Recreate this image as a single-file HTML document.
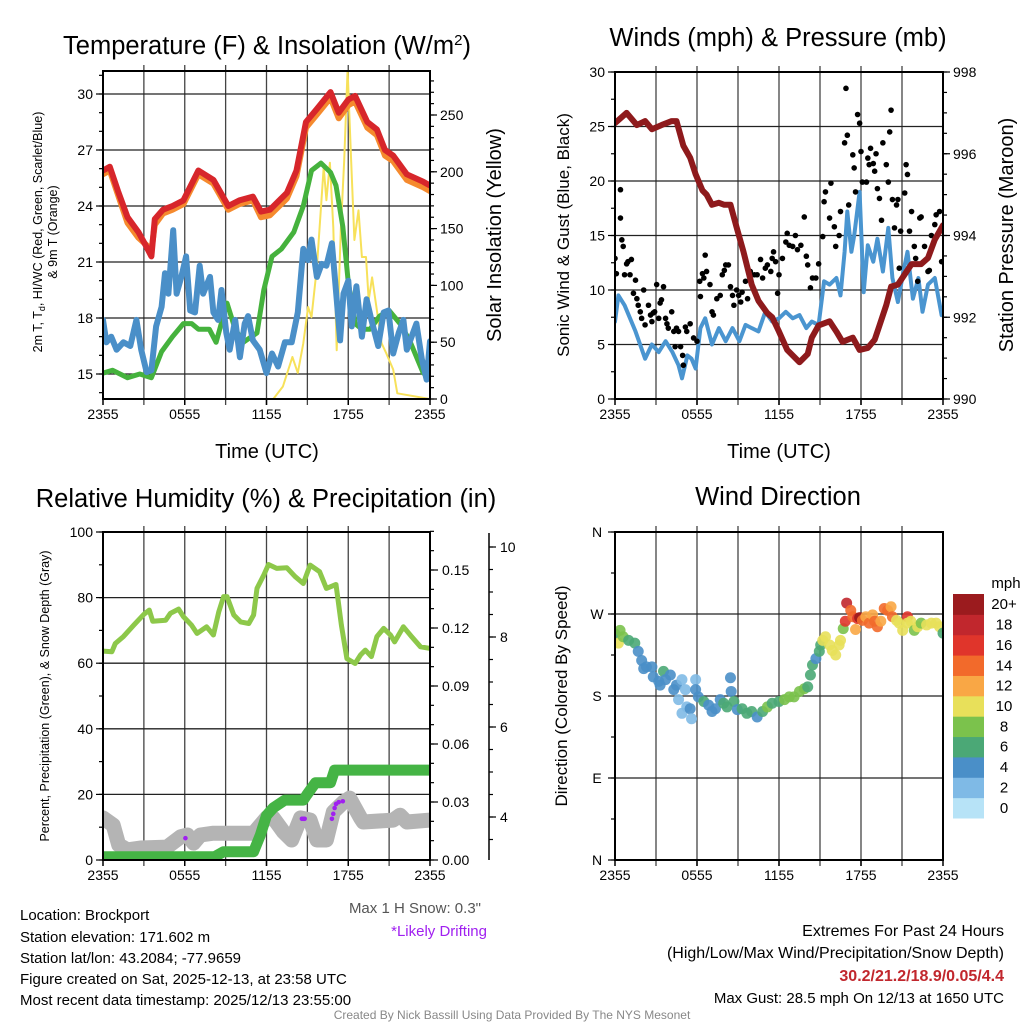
<!DOCTYPE html>
<html><head><meta charset="utf-8"><style>
html,body{margin:0;padding:0;background:#fff;}
svg{display:block;font-family:"Liberation Sans",Arial,sans-serif;}
</style></head><body>
<svg id="chart" width="1024" height="1024" viewBox="0 0 1024 1024" xmlns="http://www.w3.org/2000/svg">
<defs>
<clipPath id="c1"><rect x="103" y="71" width="327" height="328"/></clipPath>
<clipPath id="c2"><rect x="615" y="72" width="328" height="327"/></clipPath>
<clipPath id="c3"><rect x="103" y="532" width="327" height="328"/></clipPath>
<clipPath id="c4"><rect x="615" y="532" width="328" height="328"/></clipPath>
</defs>
<g font-size="25.5" text-anchor="middle" fill="#000">
<text x="267" y="54">Temperature (F) &amp; Insolation (W/m<tspan font-size="15" dy="-9">2</tspan><tspan dy="9">)</tspan></text>
<text x="778" y="46">Winds (mph) &amp; Pressure (mb)</text>
<text x="266" y="507">Relative Humidity (%) &amp; Precipitation (in)</text>
<text x="778" y="505">Wind Direction</text>
</g>
<g font-size="20" text-anchor="middle">
<text x="267" y="458">Time (UTC)</text>
<text x="779" y="458">Time (UTC)</text>
<text transform="translate(501,235) rotate(-90)">Solar Insolation (Yellow)</text>
<text transform="translate(1013,235) rotate(-90)">Station Pressure (Maroon)</text>
</g>
<g font-size="17" text-anchor="middle">
<text transform="translate(569,235) rotate(-90)">Sonic Wind &amp; Gust (Blue, Black)</text>
<text transform="translate(567,696) rotate(-90)">Direction (Colored By Speed)</text>
</g>
<g font-size="12.5" text-anchor="middle">
<text transform="translate(42,232) rotate(-90)">2m T, T<tspan font-size="9" dy="3">d</tspan><tspan dy="-3">, HI/WC (Red, Green, Scarlet/Blue)</tspan></text>
<text transform="translate(57,232) rotate(-90)">&amp; 9m T (Orange)</text>
<text transform="translate(49,696) rotate(-90)">Percent, Precipitation (Green), &amp; Snow Depth (Gray)</text>
</g>
<g font-size="15" fill="#000">
<text x="20" y="920">Location: Brockport</text>
<text x="20" y="942">Station elevation: 171.602 m</text>
<text x="20" y="963">Station lat/lon: 43.2084; -77.9659</text>
<text x="20" y="984">Figure created on Sat, 2025-12-13, at 23:58 UTC</text>
<text x="20" y="1005">Most recent data timestamp: 2025/12/13 23:55:00</text>
<text x="481" y="913" text-anchor="end" fill="#555">Max 1 H Snow: 0.3"</text>
<text x="487" y="936" text-anchor="end" fill="#a020f0">*Likely Drifting</text>
<text x="1004" y="936" text-anchor="end" font-size="16">Extremes For Past 24 Hours</text>
<text x="1004" y="958" text-anchor="end" font-size="16">(High/Low/Max Wind/Precipitation/Snow Depth)</text>
<text x="1004" y="981" text-anchor="end" font-size="16" font-weight="bold" fill="#c1272d">30.2/21.2/18.9/0.05/4.4</text>
<text x="1004" y="1003" text-anchor="end">Max Gust: 28.5 mph On 12/13 at 1650 UTC</text>
<text x="512" y="1019" text-anchor="middle" font-size="12" fill="#888">Created By Nick Bassill Using Data Provided By The NYS Mesonet</text>
</g>
</svg>
<script>
// ---- Panel 1 data ----
const xTickLabels = ["2355","0555","1155","1755","2355"];
const tempTickLabels = [15,18,21,24,27,30];
const solarTickLabels = [0,50,100,150,200,250];
const tempT = [0,0.5,1.1,1.8,2.6,3.2,3.55,3.8,4.4,5.1,5.9,7.0,8.1,9.2,10.0,11.0,11.6,12.25,13.5,14.2,14.9,15.7,16.7,17.3,18.0,18.5,19.4,20.1,20.7,21.3,22.3,23.5,24];
const tempRed = [25.9,26.1,24.8,23.4,22.6,21.8,21.3,23.3,23.8,24.0,24.3,25.9,25.4,24.0,24.3,24.5,23.7,23.8,24.7,25.9,28.5,29.2,30.1,29.0,29.7,29.9,28.5,28.1,27.0,26.7,25.7,25.3,25.1];
const tempOrange = [25.7,25.9,24.6,23.1,22.3,21.9,21.6,23.0,23.6,23.8,24.1,25.7,25.2,23.8,24.1,24.3,23.4,23.5,24.4,25.6,28.2,28.9,29.8,28.7,29.4,29.6,28.2,27.8,26.7,26.4,25.4,25.0,24.8];
const dewT = [0,0.7,1.8,2.7,3.55,4.3,5.1,5.9,6.5,7.0,7.8,8.3,9.1,9.7,10.3,11.3,11.8,12.4,13.1,14.0,14.7,15.3,16.0,16.7,17.1,17.6,18.0,18.5,19.0,19.6,20.3,21.0,21.8,22.5,23.5,24];
const dewVal = [15.05,15.2,14.8,15.0,14.8,16.2,17.0,17.7,17.7,17.4,17.4,16.7,18.8,17.4,16.7,17.2,19.5,21.3,21.7,22.6,24.0,25.9,26.3,25.8,25.1,22.9,19.9,17.7,17.4,17.4,18.1,18.4,17.7,16.8,15.05,14.9];
const wcT = [0,0.25,0.6,1.0,1.5,2.0,2.45,2.8,3.2,3.55,3.9,4.3,4.55,4.8,5.15,5.4,5.75,6.1,6.4,6.75,7.1,7.35,7.85,8.1,8.45,8.7,9.05,9.3,9.7,10.05,10.4,10.65,11.0,11.5,12.0,12.4,12.85,13.35,13.85,14.3,14.7,15.05,15.3,15.7,16.05,16.4,16.8,17.15,17.4,17.65,18.0,18.25,18.6,19.0,19.35,19.7,20.2,20.6,20.95,21.3,21.7,22.05,22.3,22.65,23.0,23.4,23.75,24];
const wcVal = [17.9,16.7,17.0,16.3,16.7,16.5,17.9,16.3,15.1,15.2,17.55,18.6,20.4,19.3,22.7,19.3,20.2,21.3,18.4,18.3,20.8,19.3,20.2,18.3,17.9,19.5,17.2,16.3,17.9,15.9,17.7,18.1,16.8,16.3,15.05,16.1,15.4,16.7,16.7,18.3,21.7,21.1,22.2,20.2,20.9,20.8,22.0,19.0,16.8,19.3,20.0,17.55,19.7,17.0,19.0,17.9,16.5,18.3,18.4,16.1,17.2,17.9,16.3,17.0,17.7,15.8,14.7,16.75];
const solarT = [0,12.5,13.2,13.9,14.3,14.7,15.05,15.3,15.7,16.2,16.4,16.65,16.9,17.15,17.45,17.7,17.95,18.2,18.45,18.75,19.0,19.3,19.5,19.75,20.1,20.45,20.8,21.3,21.6,24];
const solarVal = [0,0,11,37,23,49,81,72,116,204,175,208,151,43,149,210,290,213,140,166,125,125,87,107,78,49,40,26,5,0];
// ---- Panel 2 data ----
const windTickLabels = [0,5,10,15,20,25,30];
const presTickLabels = [990,992,994,996,998];
const sonicT = [0,0.25,0.7,1.5,2.2,2.7,3.2,3.7,4.2,4.65,4.9,5.3,5.6,5.9,6.25,6.6,7.1,7.6,8.1,8.6,9.1,9.55,10.0,10.5,11.0,11.5,12.0,12.5,13.0,13.5,14.0,14.4,14.9,15.3,15.7,16.2,16.5,16.8,17.0,17.3,17.5,17.9,18.2,18.5,18.9,19.2,19.6,20.0,20.3,20.7,21.1,21.4,21.8,22.2,22.5,22.9,23.4,23.9];
const sonicVal = [7.1,9.5,8.6,6.2,3.7,5.0,4.3,5.3,4.3,3.1,1.9,4.0,3.7,2.8,6.5,7.4,5.0,6.5,5.3,6.5,5.3,6.8,6.5,6.2,8.0,7.1,7.4,8.0,7.4,7.7,6.5,7.1,6.8,10.8,10.5,11.1,9.5,13.5,17.2,13.5,15.0,19.0,9.8,14.1,12.6,14.7,11.7,15.7,11.1,8.9,11.7,13.5,9.2,11.1,8.0,10.5,11.1,7.7];
const gustT = [0,0.1,0.4,0.4,0.5,0.6,0.7,0.85,0.95,1.2,1.1,1.5,1.35,1.6,1.7,1.85,2.1,1.95,2.2,2.45,2.6,2.7,2.8,2.9,3.05,3.2,3.3,3.4,3.55,3.7,3.8,3.9,4.15,4.3,4.4,4.5,4.65,4.8,4.95,5.0,5.15,5.25,5.5,5.75,6.0,6.2,6.25,6.4,6.5,6.6,6.7,6.95,7.1,7.2,7.45,7.7,7.85,8.0,8.1,8.3,8.45,8.6,8.7,8.9,9.05,9.2,9.3,9.55,9.7,9.9,10.2,10.4,10.65,10.8,11.0,11.15,11.4,11.5,11.6,11.75,11.9,12.0,12.25,12.5,12.6,12.75,13.0,13.2,13.35,13.6,13.85,14.0,14.1,14.3,14.45,14.7,14.9,15.2,15.3,15.4,15.7,15.8,16.05,16.15,16.4,16.5,16.8,16.9,17.0,17.1,17.4,17.5,17.6,17.75,17.9,18.0,18.1,18.4,18.5,18.6,18.7,18.9,19.0,19.1,19.2,19.35,19.5,19.6,19.85,20.0,20.1,20.2,20.3,20.45,20.6,20.7,20.8,20.9,21.2,21.3,21.4,21.55,21.7,21.9,22.0,22.15,22.3,22.4,22.65,22.9,23.0,23.15,23.4,23.5,23.75,23.9];
const gustVal = [12.9,11.5,19.2,16.6,14.6,14.0,11.4,12.4,12.6,12.8,11.4,10.9,9.7,9.2,8.6,8.0,10.0,7.4,6.8,8.6,7.7,7.1,7.9,8.0,10.5,7.4,8.8,9.1,10.3,7.4,6.9,6.5,8.0,6.2,4.8,6.5,6.2,4.8,4.0,3.1,6.6,6.2,6.9,5.6,5.3,10.8,9.4,11.5,11.1,13.2,11.7,10.5,8.0,7.7,9.2,9.5,11.4,11.8,12.3,12.3,10.3,9.5,8.6,10.0,9.5,8.9,9.8,10.8,9.2,11.7,11.4,11.4,12.8,11.1,12.0,12.3,11.7,12.9,13.5,12.6,9.7,11.4,12.9,14.4,15.2,14.1,14.0,15.0,13.7,14.1,16.7,13.1,12.3,10.2,11.1,11.1,12.4,14.9,18.1,19.0,16.6,19.8,15.8,14.0,15.0,17.2,23.5,28.5,24.2,17.8,22.4,21.2,19.0,26.1,25.3,22.7,19.9,19.9,22.1,21.5,23.0,21.6,20.9,22.5,19.3,18.4,16.4,23.5,21.5,19.9,24.5,26.5,18.3,15.7,17.8,18.3,12.0,15.4,18.9,21.5,20.6,15.4,17.2,14.0,12.9,10.8,16.6,16.7,14.0,11.7,11.8,15.0,16.0,16.9,17.2,12.6];
const presT = [0,0.85,1.6,2.2,2.7,3.4,4.15,4.5,5.0,5.5,5.9,6.4,6.7,7.1,7.6,8.0,8.45,8.9,9.4,10.0,10.5,11.15,11.5,12.0,12.6,13.5,14.1,14.4,14.9,15.7,16.2,16.65,17.4,17.9,18.5,19.0,19.35,19.85,20.2,20.7,21.3,21.7,22.4,22.9,23.4,24];
const presVal = [996.75,997.0,996.7,996.8,996.6,996.7,996.8,996.8,996.2,995.9,995.5,995.1,995.0,994.75,994.8,994.75,994.75,994.2,993.6,992.8,992.4,992.1,992.0,991.65,991.2,990.9,991.1,991.5,991.8,991.9,991.65,991.4,991.5,991.2,991.25,991.45,991.8,992.3,992.75,992.8,993.1,993.3,993.3,993.45,993.9,994.25];
// ---- Panel 3 data ----
const rhTickLabels = [0,20,40,60,80,100];
const precipTickLabels = ["0.00","0.03","0.06","0.09","0.12","0.15"];
const snowTickLabels = [4,6,8,10];
const rhT = [0,0.65,0.9,1.5,2.25,3.0,3.4,3.65,4.6,4.95,5.55,5.9,6.5,6.9,7.6,8.1,8.5,8.85,9.1,9.6,10.1,10.7,11.05,11.3,11.8,12.15,12.75,13.5,14.1,14.7,15.2,15.9,16.4,17.1,17.5,17.9,18.5,18.9,19.25,19.7,20.1,20.6,21.1,21.4,22.05,22.65,23.3,24];
const rhVal = [63.7,63.5,66.0,68.1,71.6,74.9,76.2,72.8,73.1,75.2,76.5,74.2,71.6,69.1,71.1,68.6,75.7,80.3,80.3,74.7,72.6,72.1,74.7,82.8,86.9,90.1,88.9,89.1,86.4,84.3,89.9,87.9,82.8,84.0,71.6,61.4,59.9,62.5,64.0,62.0,68.1,70.6,68.6,66.5,71.1,68.1,65.0,64.5];
const precipT = [0,8.2,8.85,11.05,11.55,12.0,12.5,13.35,14.7,14.95,15.6,16.7,17.0,24];
const precipVal = [0.0017,0.0017,0.0043,0.0043,0.013,0.023,0.027,0.031,0.031,0.0336,0.040,0.040,0.0465,0.0465];
const snowT = [0,0.75,1.15,1.8,2.75,4.7,5.7,6.2,6.65,7.15,8.1,11.05,12.0,12.5,13.25,13.85,14.5,15.2,15.7,16.4,16.9,17.65,18.1,18.9,19.1,21.3,21.8,22.3,24];
const snowVal = [3.98,3.82,3.38,3.27,3.31,3.33,3.56,3.6,3.42,3.6,3.64,3.64,3.98,3.98,3.67,3.49,3.98,3.93,3.49,3.49,4.11,4.33,4.42,3.98,3.89,3.93,4.04,3.89,3.93];
const driftT = [6.05,14.6,14.7,14.8,16.8,16.9,17.0,17.1,17.3,17.6];
const driftVal = [3.53,3.96,3.96,3.96,3.96,4.07,4.2,4.29,4.33,4.35];
// ---- Panel 4 data ----
const dirTickLabels = ["N","E","S","W","N"];
const speedLabels = ["0","2","4","6","8","10","12","14","16","18","20+"];
const dirT = [0,0.25,0.37,0.6,1.0,1.45,1.7,1.95,2.1,2.3,2.7,2.8,3.2,3.3,3.55,3.7,4.05,4.3,4.5,4.65,4.9,5.15,5.25,4.9,5.5,5.6,5.9,5.9,6.1,6.5,6.85,7.1,7.35,7.7,7.95,8.2,8.5,8.45,8.7,8.95,9.3,9.65,10.0,10.4,10.8,11.15,11.5,12.0,12.4,12.75,13.1,13.5,13.85,14.1,14.3,14.45,14.7,14.95,15.05,15.2,15.4,15.7,15.9,16.15,16.4,16.5,16.7,16.85,16.95,17.25,17.4,17.6,17.75,17.9,18.1,18.35,18.6,18.85,19.0,19.2,19.45,19.7,19.95,20.2,20.3,20.6,20.8,21.05,21.4,21.4,21.65,21.9,22.15,22.4,22.8,23.15,23.5,23.75,24.0];
const dirVal = [248,238,252,245,241,238,229,219,210,212,212,201,196,192,207,198,203,187,192,176,198,187,168,161,166,155,198,187,179,174,170,163,166,176,172,168,185,200,174,165,166,161,163,157,163,168,172,174,176,179,179,185,188,190,203,214,221,229,236,241,245,236,230,225,236,241,254,262,282,274,267,253,265,266,263,267,260,269,262,256,262,276,274,278,267,263,260,252,267,260,262,252,256,260,258,260,260,256,249];
const dirSpeed = [6,10,8,8,6,6,4,4,4,4,4,4,4,4,6,4,4,4,4,2,2,2,2,2,4,2,2,4,4,6,4,4,4,4,6,6,4,4,6,4,6,6,6,4,6,8,6,6,8,8,8,8,8,6,6,6,4,6,6,10,10,10,10,10,10,10,8,16,18,14,14,12,16,20,14,12,14,12,14,14,12,14,14,12,14,10,10,10,16,10,10,8,10,8,10,10,10,10,6];
</script>
<script>
const NS = "http://www.w3.org/2000/svg";
const svg = document.getElementById("chart");
function mk(tag, attrs, parent) {
  const e = document.createElementNS(NS, tag);
  for (const k in attrs) e.setAttribute(k, attrs[k]);
  (parent || svg).appendChild(e);
  return e;
}
function lin(d0, d1, r0, r1) { return v => r0 + (v - d0) * (r1 - r0) / (d1 - d0); }
function pathD(xs, ys, sx, sy) {
  let d = "";
  for (let i = 0; i < xs.length; i++) d += (i ? "L" : "M") + sx(xs[i]).toFixed(1) + "," + sy(ys[i]).toFixed(1);
  return d;
}
function drawLine(parent, xs, ys, sx, sy, color, w, name) {
  const p = mk("path", {d: pathD(xs, ys, sx, sy), fill: "none", stroke: color, "stroke-width": w, "stroke-linejoin": "round", "stroke-linecap": "round"}, parent);
  
  
  return p;
}
function txt(x, y, s, opts, name) {
  const t = mk("text", Object.assign({x: x, y: y, "font-size": 14, "text-anchor": "middle"}, opts || {}));
  t.textContent = s;
  
  
  return t;
}
function frame(L, T, R, B, name) {
  const g = mk("g", {});
  
  
  const sx = lin(0, 24, L, R);
  for (let h = 3; h < 24; h += 3) {
    const l = mk("line", {x1: sx(h), x2: sx(h), y1: T - 6, y2: B + 6, stroke: "#444", "stroke-width": 1.3}, g);
    
    
  }
  for (let i = 0; i < xTickLabels.length; i++) {
    const x = sx(i * 6);
    const l = mk("line", {x1: x, x2: x, y1: B, y2: B + 6, stroke: "#000", "stroke-width": 1.5}, g);
    
    
    txt(x, B + 20, xTickLabels[i], {}, 'x-tick-label');
  }
  return {g: g, sx: sx};
}
function hgrid(g, y, L, R) {
  const l = mk("line", {x1: L, x2: R, y1: y, y2: y, stroke: "#222", "stroke-width": 1.3}, g);
  
  
}
function border(L, T, R, B, name) {
  const r = mk("rect", {x: L, y: T, width: R - L, height: B - T, fill: "none", stroke: "#000", "stroke-width": 2});
  
  
}
function tick(x, y, len, horiz) {
  const l = mk("line", {x1: x, x2: x + len, y1: y, y2: y, stroke: "#000", "stroke-width": 1.2});
  
  
}

// ===== Panel 1 =====
(function () {
  const L = 103, T = 71, R = 430, B = 399;
  const f = frame(L, T, R, B, 'temperature-panel');
  const sx = f.sx;
  const sy = lin(30, 15, 94, 374);
  const ss = lin(0, 250, 399, 115);
  tempTickLabels.forEach(v => { hgrid(f.g, sy(v), L, R); tick(L, sy(v), -7, true); txt(L - 10, sy(v) + 5, String(v), {"text-anchor": "end"}, 'temperature-tick-label'); });
  for (let v = 14; v <= 31; v++) tick(L, sy(v), -4, true);
  solarTickLabels.forEach(v => { tick(R, ss(v), 7, true); txt(R + 10, ss(v) + 5, String(v), {"text-anchor": "start"}, 'insolation-tick-label'); });
  for (let v = 0; v <= 280; v += 10) tick(R, ss(v), 4, true);
  const g = mk("g", {"clip-path": "url(#c1)"});
  
  
  drawLine(g, solarT, solarVal, sx, ss, "#f7e15a", 2, 'solar-insolation-line');
  drawLine(g, dewT, dewVal, sx, sy, "#45b23d", 5, 'dewpoint-line');
  drawLine(g, wcT, wcVal, sx, sy, "#4a8fc8", 6, 'wind-chill-line');
  drawLine(g, tempT, tempOrange, sx, sy, "#f58a2e", 6, 'temperature-9m-line');
  drawLine(g, tempT, tempRed, sx, sy, "#d7262b", 6, 'temperature-2m-line');
  border(L, T, R, B, 'temperature-plot-border');
})();

// ===== Panel 2 =====
(function () {
  const L = 615, T = 72, R = 943, B = 399;
  const f = frame(L, T, R, B, 'winds-panel');
  const sx = f.sx;
  const sy = lin(0, 30, 399, 72);
  const sp = lin(990, 998, 399, 72);
  windTickLabels.forEach(v => { if (v > 0 && v < 30) hgrid(f.g, sy(v), L, R); tick(L, sy(v), -7, true); txt(L - 10, sy(v) + 5, String(v), {"text-anchor": "end"}, 'wind-tick-label'); });
  for (let v = 0; v <= 30; v += 2.5) tick(L, sy(v), -4, true);
  presTickLabels.forEach(v => { tick(R, sp(v), 7, true); txt(R + 10, sp(v) + 5, String(v), {"text-anchor": "start"}, 'pressure-tick-label'); });
  for (let v = 990; v <= 998; v += 0.5) tick(R, sp(v), 4, true);
  const g = mk("g", {"clip-path": "url(#c2)"});
  
  
  drawLine(g, sonicT, sonicVal, sx, sy, "#4a95d0", 4, 'sonic-wind-line');
  for (let i = 0; i < gustT.length; i++) {
    const c = mk("circle", {cx: sx(gustT[i]), cy: sy(gustVal[i]), r: 2.8, fill: "#000"}, g);
    
    
  }
  drawLine(g, presT, presVal, sx, sp, "#8e1a1c", 6, 'pressure-line');
  border(L, T, R, B, 'winds-plot-border');
})();

// ===== Panel 3 =====
(function () {
  const L = 103, T = 532, R = 430, B = 860;
  const f = frame(L, T, R, B, 'humidity-panel');
  const sx = f.sx;
  const sy = lin(0, 100, 860, 532);
  const sp = lin(0, 0.15, 860, 570);
  const sn = lin(4, 10, 817, 547);
  rhTickLabels.forEach(v => { if (v > 0 && v < 100) hgrid(f.g, sy(v), L, R); tick(L, sy(v), -7, true); txt(L - 10, sy(v) + 5, String(v), {"text-anchor": "end"}, 'humidity-tick-label'); });
  for (let v = 0; v <= 100; v += 10) tick(L, sy(v), -4, true);
  precipTickLabels.forEach((s, i) => { const y = sp(i * 0.03); tick(R, y, 8, true); txt(R + 12, y + 5, s, {"text-anchor": "start"}, 'precip-tick-label'); });
  for (let v = 0; v <= 0.17; v += 0.01) tick(R, sp(v), 4, true);
  const sl = mk("line", {x1: 489, x2: 489, y1: 533, y2: 860, stroke: "#000", "stroke-width": 1.5});
  
  
  snowTickLabels.forEach(v => { tick(489, sn(v), 7, true); txt(500, sn(v) + 5, String(v), {"text-anchor": "start"}, 'snow-tick-label'); });
  for (let v = 3; v <= 10.5; v += 0.5) { const y = sn(v); if (y >= 533 && y <= 860) tick(489, y, 4, true); }
  const g = mk("g", {"clip-path": "url(#c3)"});
  
  
  drawLine(g, rhT, rhVal, sx, sy, "#8dc84a", 5, 'relative-humidity-line');
  drawLine(g, snowT, snowVal, sx, sn, "#b4b4b4", 15, 'snow-depth-line');
  drawLine(g, precipT, precipVal, sx, sp, "#45b445", 11, 'precipitation-line');
  for (let i = 0; i < driftT.length; i++) {
    const c = mk("circle", {cx: sx(driftT[i]), cy: sn(driftVal[i]), r: 2.3, fill: "#a020f0"}, g);
    
    
  }
  border(L, T, R, B, 'humidity-plot-border');
})();

// ===== Panel 4 =====
(function () {
  const L = 615, T = 532, R = 943, B = 860;
  const f = frame(L, T, R, B, 'wind-direction-panel');
  const sx = f.sx;
  const sd = lin(0, 360, 860, 532);
  dirTickLabels.forEach((s, i) => { const y = sd(i * 90); if (i > 0 && i < 4) hgrid(f.g, y, L, R); tick(L, y, -7, true); txt(L - 18, y + 5, s, {"text-anchor": "middle"}, 'direction-tick-label'); });
  for (let v = 0; v <= 360; v += 45) tick(L, sd(v), -4, true);
  const colors = ["#b7e3f7","#7fbae6","#4a8fc8","#4ba876","#7bc24c","#e8e05a","#f9a745","#f26a2b","#e0352b","#c1272d","#9b1b1e"];
  const g = mk("g", {"clip-path": "url(#c4)"});
  
  
  for (let i = 0; i < dirT.length; i++) {
    const k = Math.min(10, Math.floor(dirSpeed[i] / 2));
    const c = mk("circle", {cx: sx(dirT[i]), cy: sd(dirVal[i]), r: 5.5, fill: colors[k], "fill-opacity": 0.9}, g);
    
    
  }
  border(L, T, R, B, 'direction-plot-border');
  const cb = mk("g", {});
  
  
  const h = 224 / 11;
  for (let i = 0; i < 11; i++) {
    const y = 594 + (10 - i) * h;
    const r = mk("rect", {x: 953, y: y, width: 31, height: h + 0.5, fill: colors[i]}, cb);
    
    
    txt(1004, y + h / 2 + 5, speedLabels[i], {"text-anchor": "middle", "font-size": 15}, 'colorbar-label');
  }
  txt(1006, 588, "mph", {"text-anchor": "middle", "font-size": 15}, 'colorbar-title');
})();
</script>
</body></html>
